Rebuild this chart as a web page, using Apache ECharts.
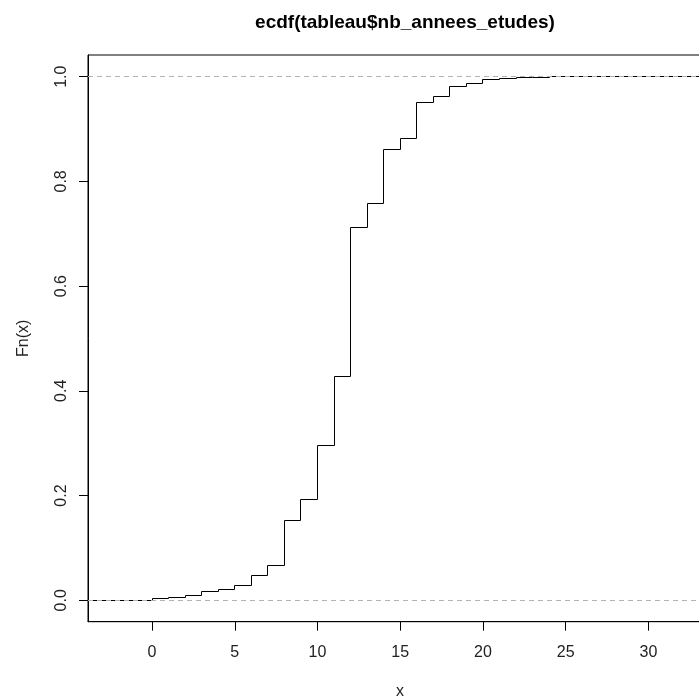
<!DOCTYPE html>
<html>
<head>
<meta charset="utf-8">
<script src="https://cdn.jsdelivr.net/npm/echarts@6/dist/echarts.min.js"></script>
<style>html,body{margin:0;padding:0;background:#fff;}#c{width:699px;height:699px;}</style>
</head>
<body>
<div id="c"></div>
<script>
// ECDF knots (years of study) and cumulative proportions Fn(x)
const knots = [0, 1, 2, 3, 4, 5, 6, 7, 8, 9, 10, 11, 12, 13, 14, 15, 16, 17, 18, 19, 20, 21, 22, 23, 24];
const fn = [0.003, 0.006, 0.009, 0.016, 0.020, 0.029, 0.047, 0.066, 0.153, 0.192, 0.296, 0.428, 0.711, 0.758, 0.860, 0.882, 0.950, 0.962, 0.981, 0.987, 0.995, 0.997, 0.998, 0.999, 1.0];
const xTicks = [0, 5, 10, 15, 20, 25, 30];
const yTicks = [0, 0.2, 0.4, 0.6, 0.8, 1.0];
const refLines = [0, 1];
const xMin = -3.87, xMax = 33.84;
const yMin = -0.0409, yMax = 1.0414;

// ecdf is 0 before the first knot and 1 after the last one
const xs = [xMin].concat(knots).concat([xMax]);
const ys = [0].concat(fn).concat([fn[fn.length - 1]]);
// each step: [x_i, F_i, x_{i+1}, F_{i+1}] -> horizontal run then vertical jump
const steps = [];
for (let i = 0; i < xs.length - 1; i++) steps.push([xs[i], ys[i], xs[i + 1], ys[i + 1]]);

const crisp = v => Math.round(v - 0.5) + 0.5;

const font = 'Liberation Sans, Arial, sans-serif';
const chart = echarts.init(document.getElementById('c'), null, {renderer: 'canvas'});
chart.setOption({
  animation: false,
  backgroundColor: '#fff',
  title: {
    text: 'ecdf(tableau$nb_annees_etudes)',
    left: 400, top: 8, textAlign: 'center',
    textStyle: {fontFamily: font, fontWeight: 'bold', fontSize: 19, color: '#000'}
  },
  grid: {left: 88, top: 55, width: 624, height: 566.7, show: true, borderColor: '#000', borderWidth: 1,
    containLabel: false, outerBoundsMode: 'none'},
  xAxis: {
    type: 'value', min: xMin, max: xMax,
    name: 'x', nameLocation: 'middle', nameGap: 62,
    nameTextStyle: {fontFamily: font, fontSize: 16, color: '#222'},
    axisLine: {show: true, onZero: false, lineStyle: {color: '#000', width: 1}},
    axisTick: {show: true, length: 9, customValues: xTicks, lineStyle: {color: '#000'}},
    axisLabel: {show: true, customValues: xTicks, margin: 23, fontFamily: font, fontSize: 16, color: '#222'},
    splitLine: {show: false}
  },
  yAxis: {
    type: 'value', min: yMin, max: yMax,
    name: 'Fn(x)', nameLocation: 'middle', nameGap: 56,
    nameTextStyle: {fontFamily: font, fontSize: 16, color: '#222'},
    axisLine: {show: true, onZero: false, lineStyle: {color: '#000', width: 1}},
    axisTick: {show: true, length: 9, customValues: yTicks, lineStyle: {color: '#000'}},
    axisLabel: {show: true, customValues: yTicks, rotate: 90, margin: 18, fontFamily: font, fontSize: 16, color: '#222',
      formatter: v => Number(v).toFixed(1)},
    splitLine: {show: false}
  },
  series: [{
    type: 'custom',
    data: steps,
    silent: true,
    clip: true,
    z: 2,
    encode: {x: [0, 2], y: [1, 3]},
    renderItem: function (params, api) {
      const a = api.coord([api.value(0), api.value(1)]);
      const b = api.coord([api.value(2), api.value(1)]);
      const c = api.coord([api.value(2), api.value(3)]);
      return {
        type: 'polyline',
        shape: {points: [[crisp(a[0]), crisp(a[1])], [crisp(b[0]), crisp(b[1])], [crisp(c[0]), crisp(c[1])]]},
        style: {stroke: '#000', lineWidth: 1, fill: null}
      };
    }
  }, {
    type: 'line',
    data: [],
    silent: true,
    z: 3,
    markLine: {
      silent: true, symbol: ['none', 'none'], label: {show: false},
      lineStyle: {color: '#b3b3b3', type: [5, 4], width: 1.2},
      data: refLines.map(v => ({yAxis: v})),
      z: 3
    }
  }]
});
</script>
</body>
</html>
